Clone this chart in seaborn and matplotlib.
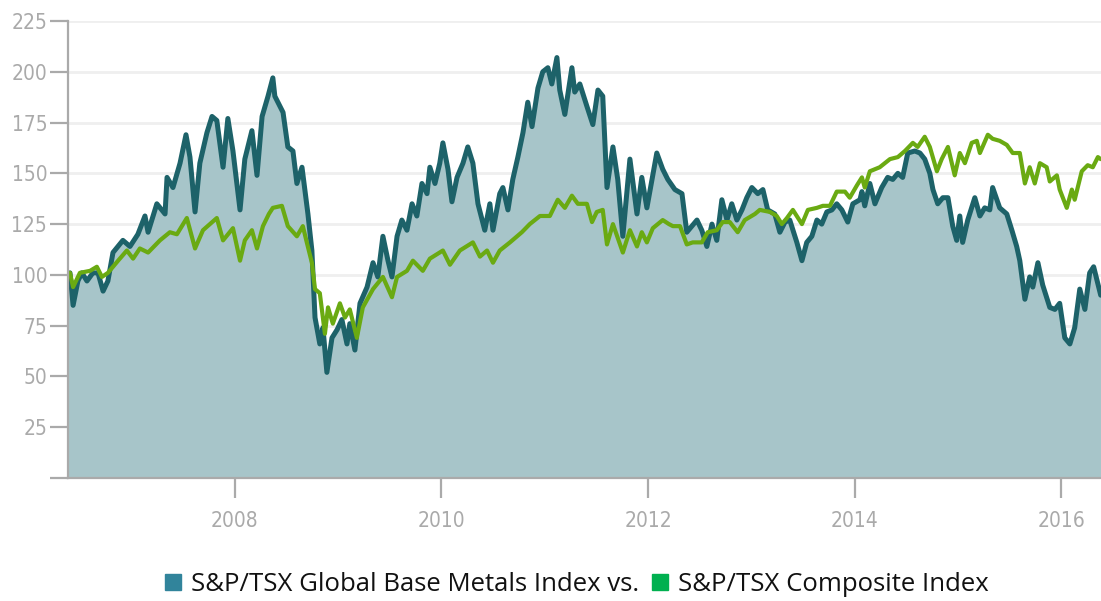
import pandas as pd
import matplotlib.pyplot as plt
from matplotlib.lines import Line2D
import matplotlib.dates as mdates
import seaborn as sns

# S&P/TSX Global Base Metals Index (rebased to 100)
metals_dates = [
    "2006-05-22", "2006-05-29", "2006-06-09", "2006-06-26", "2006-07-10", "2006-07-28",
    "2006-08-18", "2006-09-05", "2006-09-23", "2006-10-10", "2006-10-28", "2006-12-02",
    "2006-12-27", "2007-01-24", "2007-02-18", "2007-03-01", "2007-04-01", "2007-04-30",
    "2007-05-07", "2007-05-28", "2007-06-22", "2007-07-13", "2007-07-27", "2007-08-14",
    "2007-08-31", "2007-09-25", "2007-10-13", "2007-10-30", "2007-11-21", "2007-12-08",
    "2007-12-26", "2008-01-20", "2008-02-06", "2008-03-02", "2008-03-20", "2008-04-07",
    "2008-04-28", "2008-05-15", "2008-05-22", "2008-06-20", "2008-07-07", "2008-07-25",
    "2008-08-08", "2008-08-26", "2008-09-05", "2008-09-16", "2008-09-30", "2008-10-11",
    "2008-10-28", "2008-11-08", "2008-11-22", "2008-12-10", "2008-12-28", "2009-01-14",
    "2009-02-01", "2009-02-11", "2009-03-01", "2009-03-19", "2009-04-13", "2009-05-04",
    "2009-05-21", "2009-06-08", "2009-06-26", "2009-07-10", "2009-07-28", "2009-08-14",
    "2009-09-01", "2009-09-19", "2009-10-06", "2009-10-24", "2009-11-11", "2009-11-21",
    "2009-12-09", "2009-12-26", "2010-01-06", "2010-01-24", "2010-02-07", "2010-02-25",
    "2010-03-18", "2010-04-04", "2010-04-22", "2010-05-10", "2010-06-03", "2010-06-21",
    "2010-07-02", "2010-07-26", "2010-08-06", "2010-08-24", "2010-09-10", "2010-09-28",
    "2010-10-16", "2010-11-02", "2010-11-17", "2010-12-08", "2010-12-25", "2011-01-12",
    "2011-01-26", "2011-02-13", "2011-02-23", "2011-03-13", "2011-04-07", "2011-04-17",
    "2011-05-05", "2011-05-30", "2011-06-20", "2011-07-08", "2011-07-25", "2011-08-09",
    "2011-08-30", "2011-09-16", "2011-10-04", "2011-10-29", "2011-11-23", "2011-12-10",
    "2011-12-28", "2012-02-01", "2012-02-22", "2012-03-11", "2012-04-05", "2012-04-30",
    "2012-05-17", "2012-06-04", "2012-06-22", "2012-07-09", "2012-07-27", "2012-08-14",
    "2012-08-31", "2012-09-18", "2012-10-06", "2012-10-23", "2012-11-10", "2012-11-28",
    "2012-12-15", "2013-01-02", "2013-01-23", "2013-02-10", "2013-02-27", "2013-03-24",
    "2013-04-11", "2013-04-29", "2013-05-16", "2013-06-10", "2013-06-28", "2013-07-15",
    "2013-08-02", "2013-08-20", "2013-09-06", "2013-09-24", "2013-10-12", "2013-10-29",
    "2013-11-16", "2013-12-07", "2013-12-25", "2014-01-19", "2014-01-26", "2014-02-05",
    "2014-02-23", "2014-03-13", "2014-04-06", "2014-04-27", "2014-05-15", "2014-06-02",
    "2014-06-19", "2014-07-07", "2014-08-01", "2014-08-19", "2014-09-05", "2014-09-23",
    "2014-10-04", "2014-10-21", "2014-11-08", "2014-11-26", "2014-12-13", "2014-12-27",
    "2015-01-07", "2015-01-17", "2015-02-04", "2015-03-01", "2015-03-19", "2015-04-05",
    "2015-04-23", "2015-05-03", "2015-05-28", "2015-06-22", "2015-07-10", "2015-07-27",
    "2015-08-07", "2015-08-25", "2015-09-11", "2015-09-22", "2015-10-10", "2015-10-27",
    "2015-11-21", "2015-12-09", "2015-12-26", "2016-01-13", "2016-01-31", "2016-02-17",
    "2016-03-06", "2016-03-24", "2016-04-10", "2016-04-24", "2016-05-19",
]
metals_values = [
    100, 101, 85, 97, 101, 97,
    101, 101, 92, 97, 111, 117,
    114, 120, 129, 121, 135, 130,
    148, 143, 155, 169, 158, 131,
    155, 170, 178, 176, 153, 177,
    161, 132, 157, 171, 149, 178,
    188, 197, 188, 180, 163, 161,
    145, 153, 142, 130, 112, 79,
    66, 74, 52, 69, 73, 78,
    66, 76, 63, 86, 94, 106,
    99, 119, 107, 99, 119, 127,
    122, 135, 129, 145, 140, 153,
    145, 155, 165, 152, 136, 148,
    155, 163, 155, 135, 122, 135,
    122, 140, 143, 132, 147, 158,
    170, 185, 173, 192, 200, 202,
    194, 207, 191, 179, 202, 190,
    194, 183, 174, 191, 188, 143,
    163, 147, 119, 157, 130, 148,
    133, 160, 152, 147, 142, 140,
    121, 124, 127, 122, 114, 125,
    117, 137, 127, 135, 127, 132,
    138, 143, 140, 142, 132, 130,
    121, 126, 127, 116, 107, 116,
    119, 127, 125, 131, 132, 135,
    132, 126, 135, 137, 141, 134,
    145, 135, 143, 148, 147, 150,
    148, 160, 161, 160, 157, 150,
    142, 135, 138, 138, 124, 117,
    129, 116, 127, 138, 129, 133,
    132, 143, 133, 130, 122, 114,
    107, 88, 99, 94, 106, 95,
    84, 83, 86, 69, 66, 74,
    93, 83, 101, 104, 90,
]

# S&P/TSX Composite Index (rebased to 100)
composite_dates = [
    "2006-05-22", "2006-05-29", "2006-06-09", "2006-07-03", "2006-08-08", "2006-09-01",
    "2006-09-19", "2006-10-10", "2006-11-15", "2006-12-16", "2007-01-07", "2007-01-31",
    "2007-03-01", "2007-04-12", "2007-05-17", "2007-06-11", "2007-07-16", "2007-08-14",
    "2007-09-11", "2007-10-30", "2007-11-21", "2007-12-26", "2008-01-20", "2008-02-06",
    "2008-03-02", "2008-03-20", "2008-04-10", "2008-05-01", "2008-05-15", "2008-06-16",
    "2008-07-07", "2008-08-08", "2008-08-29", "2008-09-12", "2008-09-30", "2008-10-11",
    "2008-10-28", "2008-11-15", "2008-11-26", "2008-12-13", "2009-01-07", "2009-01-25",
    "2009-02-11", "2009-03-08", "2009-03-29", "2009-05-04", "2009-06-08", "2009-07-10",
    "2009-07-28", "2009-09-01", "2009-09-22", "2009-10-27", "2009-11-21", "2010-01-06",
    "2010-01-31", "2010-03-07", "2010-04-22", "2010-05-17", "2010-06-11", "2010-07-02",
    "2010-07-26", "2010-08-31", "2010-10-12", "2010-11-09", "2010-12-15", "2011-01-19",
    "2011-02-16", "2011-03-13", "2011-04-07", "2011-04-28", "2011-05-30", "2011-06-17",
    "2011-07-04", "2011-07-25", "2011-08-09", "2011-08-30", "2011-10-04", "2011-10-29",
    "2011-11-23", "2011-12-10", "2011-12-28", "2012-01-18", "2012-02-22", "2012-03-15",
    "2012-03-29", "2012-04-23", "2012-05-17", "2012-06-07", "2012-07-09", "2012-07-30",
    "2012-08-31", "2012-09-21", "2012-10-16", "2012-11-13", "2012-12-08", "2013-01-13",
    "2013-01-30", "2013-03-07", "2013-03-31", "2013-04-18", "2013-05-06", "2013-05-27",
    "2013-06-28", "2013-07-19", "2013-08-20", "2013-09-10", "2013-10-05", "2013-10-29",
    "2013-11-27", "2013-12-14", "2014-01-08", "2014-01-26", "2014-02-05", "2014-02-23",
    "2014-03-30", "2014-05-05", "2014-06-02", "2014-06-27", "2014-07-25", "2014-08-11",
    "2014-09-05", "2014-09-23", "2014-10-18", "2014-11-04", "2014-11-26", "2014-12-20",
    "2015-01-07", "2015-01-25", "2015-02-18", "2015-03-08", "2015-03-19", "2015-04-16",
    "2015-05-03", "2015-05-28", "2015-06-22", "2015-07-13", "2015-08-07", "2015-08-25",
    "2015-09-11", "2015-09-29", "2015-10-17", "2015-11-10", "2015-11-21", "2015-12-16",
    "2015-12-26", "2016-01-20", "2016-02-07", "2016-02-17", "2016-03-13", "2016-04-03",
    "2016-04-21", "2016-05-09", "2016-05-19",
]
composite_values = [
    100, 101, 94, 101, 102, 104,
    99, 101, 107, 112, 108, 113,
    111, 117, 121, 120, 128, 113,
    122, 128, 117, 123, 107, 117,
    122, 113, 124, 130, 133, 134,
    124, 119, 124, 116, 106, 93,
    91, 71, 84, 76, 86, 79,
    83, 69, 84, 93, 99, 89,
    99, 102, 107, 102, 108, 112,
    105, 112, 116, 109, 112, 106,
    112, 116, 121, 125, 129, 129,
    137, 133, 139, 135, 135, 126,
    131, 132, 115, 125, 111, 122,
    114, 121, 116, 123, 127, 125,
    124, 124, 115, 116, 116, 121,
    122, 126, 126, 121, 127, 130,
    132, 131, 129, 125, 128, 132,
    125, 132, 133, 134, 134, 141,
    141, 138, 144, 148, 143, 151,
    153, 157, 158, 161, 165, 163,
    168, 163, 151, 157, 163, 149,
    160, 155, 165, 166, 160, 169,
    167, 166, 164, 160, 160, 145,
    153, 145, 155, 153, 146, 149,
    142, 133, 142, 137, 151, 154,
    153, 158, 157,
]

metals = pd.DataFrame({"date": pd.to_datetime(metals_dates), "value": metals_values})
composite = pd.DataFrame({"date": pd.to_datetime(composite_dates), "value": composite_values})

sns.set_style("white")
plt.rcParams["font.family"] = ["DejaVu Sans"]

teal_line = "#1d6269"
teal_fill = "#a7c5c9"
green_line = "#6aaa12"
axis_grey = "#aaaaaa"

fig = plt.figure(figsize=(11.01, 6.01), dpi=100)
ax = fig.add_axes([68 / 1101, 123 / 601, 1 - 68 / 1101, 457 / 601])

ax.fill_between(metals["date"], metals["value"], 0, color=teal_fill, lw=0, zorder=2)
sns.lineplot(data=metals, x="date", y="value", ax=ax, color=teal_line, lw=3.6,
             estimator=None, zorder=3)
sns.lineplot(data=composite, x="date", y="value", ax=ax, color=green_line, lw=3.0,
             estimator=None, zorder=4)

ax.set_xlim(pd.Timestamp("2006-05-22"), pd.Timestamp("2016-05-20"))
ax.set_ylim(0, 225)
ax.set_yticks(range(0, 226, 25))
ax.set_yticklabels([""] + [str(v) for v in range(25, 226, 25)])
ax.xaxis.set_major_locator(mdates.YearLocator(2))
ax.xaxis.set_major_formatter(mdates.DateFormatter("%Y"))
ax.set_xlabel("")
ax.set_ylabel("")

ax.yaxis.grid(True, color="#efefef", lw=2, zorder=0)
ax.set_axisbelow(True)
for side in ["top", "right"]:
    ax.spines[side].set_visible(False)
for side in ["left", "bottom"]:
    ax.spines[side].set_color(axis_grey)
    ax.spines[side].set_linewidth(1.6)
    ax.spines[side].set_zorder(5)
ax.tick_params(axis="y", left=True, length=13, width=1.6, color=axis_grey,
               labelcolor=axis_grey, labelsize=15, pad=2)
ax.tick_params(axis="x", bottom=True, length=14.5, width=1.6, color=axis_grey,
               labelcolor=axis_grey, labelsize=15, pad=9)
for lab in ax.get_xticklabels() + ax.get_yticklabels():
    lab.set_fontstretch("condensed")

handles = [
    Line2D([], [], marker="s", ls="none", markersize=12, color="#31849b"),
    Line2D([], [], marker="s", ls="none", markersize=12, color="#00b050"),
]
labels = ["S&P/TSX Global Base Metals Index vs.", "S&P/TSX Composite Index"]
leg = fig.legend(handles, labels, loc="center", bbox_to_anchor=(0.523, 0.027), ncol=2,
                 frameon=False, handlelength=0.8, handletextpad=0.3, columnspacing=0.4,
                 prop={"family": ["Open Sans", "DejaVu Sans"], "size": 18.5})
for txt in leg.get_texts():
    txt.set_color("#111111")

fig.savefig("out.png", dpi=100)
